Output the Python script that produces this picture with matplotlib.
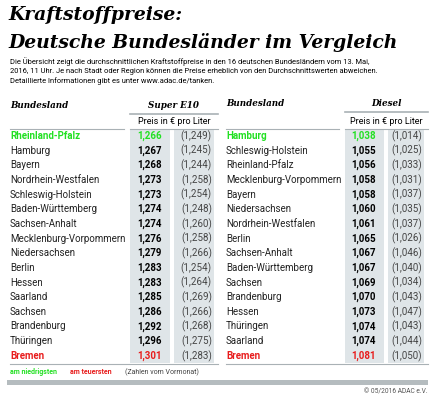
import matplotlib.pyplot as plt
from matplotlib.patches import Rectangle

plt.rcParams['font.family'] = ['Roboto', 'DejaVu Sans']

e10_laender = ['Rheinland-Pfalz', 'Hamburg', 'Bayern', 'Nordrhein-Westfalen', 'Schleswig-Holstein',
               'Baden-Württemberg', 'Sachsen-Anhalt', 'Mecklenburg-Vorpommern', 'Niedersachsen',
               'Berlin', 'Hessen', 'Saarland', 'Sachsen', 'Brandenburg', 'Thüringen', 'Bremen']
e10_preis = [1.266, 1.267, 1.268, 1.273, 1.273, 1.274, 1.274, 1.276, 1.279,
             1.283, 1.283, 1.285, 1.286, 1.292, 1.296, 1.301]
e10_vormonat = [1.249, 1.245, 1.244, 1.258, 1.254, 1.248, 1.260, 1.258, 1.266,
                1.254, 1.264, 1.269, 1.266, 1.268, 1.275, 1.283]

diesel_laender = ['Hamburg', 'Schleswig-Holstein', 'Rheinland-Pfalz', 'Mecklenburg-Vorpommern',
                  'Bayern', 'Niedersachsen', 'Nordrhein-Westfalen', 'Berlin', 'Sachsen-Anhalt',
                  'Baden-Württemberg', 'Sachsen', 'Brandenburg', 'Hessen', 'Thüringen',
                  'Saarland', 'Bremen']
diesel_preis = [1.038, 1.055, 1.056, 1.058, 1.058, 1.060, 1.061, 1.065, 1.067,
                1.067, 1.069, 1.070, 1.073, 1.074, 1.074, 1.081]
diesel_vormonat = [1.014, 1.025, 1.033, 1.031, 1.037, 1.035, 1.037, 1.026, 1.046,
                   1.040, 1.034, 1.043, 1.047, 1.043, 1.044, 1.050]

GRUEN = '#22e022'
ROT = '#e81c1c'
SHADE = '#dfe5e8'
LINIE = '#a9b1b5'

fig = plt.figure(figsize=(4.35, 4.0), dpi=100)
ax = fig.add_axes([0, 0, 1, 1])
ax.set_xlim(0, 435)
ax.set_ylim(400, 0)
ax.axis('off')

fmt = lambda v: f'{v:.3f}'.replace('.', ',')

ax.text(8, 15, 'Kraftstoffpreise:', fontsize=13.5, weight='bold', style='italic', va='center',
        family='DejaVu Serif')
ax.text(8, 42, 'Deutsche Bundesländer im Vergleich', fontsize=13.5, weight='bold', style='italic',
        va='center', family='DejaVu Serif')
sub = ('Die Übersicht zeigt die durchschnittlichen Kraftstoffpreise in den 16 deutschen Bundesländern vom 13. Mai,\n'
       '2016, 11 Uhr. Je nach Stadt oder Region können die Preise erheblich von den Durchschnittswerten abweichen.\n'
       'Detaillierte Informationen gibt es unter www.adac.de/tanken.')
ax.text(10, 71, sub, fontsize=5.4, va='center', linespacing=1.35)

y0, dy = 136, 14.65


def tabelle(x_name, x_c1, x_c2, x_end, titel, laender, preis, vormonat, y_kopf):
    ax.text(x_name, y_kopf, 'Bundesland', fontsize=6.3, weight='bold', style='italic', va='center',
            family='DejaVu Serif')
    ax.text((x_c1 + x_end) / 2, y_kopf, titel, fontsize=6.3, weight='bold', style='italic',
            va='center', ha='center', family='DejaVu Serif')
    ax.plot([x_c1, x_end], [y_kopf + 8, y_kopf + 8], color=LINIE, lw=1.2)
    ax.text((x_c1 + x_end) / 2, 122, 'Preis in € pro Liter', fontsize=6.5, va='center', ha='center')
    ax.plot([x_name, x_c1 - 6], [129, 129], color=LINIE, lw=0.8)
    ax.plot([x_c1, x_end], [129, 129], color=LINIE, lw=0.8)
    w1 = x_c2 - x_c1 - 4
    w2 = x_end - x_c2 - 4
    ax.add_patch(Rectangle((x_c1, 130), w1, 233, color=SHADE, lw=0))
    ax.add_patch(Rectangle((x_c2, 130), w2, 233, color=SHADE, lw=0))
    n = len(laender)
    for i, (land, p, v) in enumerate(zip(laender, preis, vormonat)):
        y = y0 + i * dy
        farbe = GRUEN if i == 0 else (ROT if i == n - 1 else '#222222')
        w = 'bold' if i in (0, n - 1) else 'normal'
        ax.text(x_name, y, land, fontsize=7, color=farbe, weight=w, va='center')
        ax.text(x_c1 + w1 - 8, y, fmt(p), fontsize=7, color=farbe if farbe != '#222222' else 'black',
                weight='bold', va='center', ha='right')
        ax.text(x_end - 6, y, f'({fmt(v)})', fontsize=7, color='#444444', va='center', ha='right')
    ax.plot([x_name, x_end], [364, 364], color=LINIE, lw=0.8)


tabelle(10, 130, 174, 218, 'Super E10', e10_laender, e10_preis, e10_vormonat, 106)
tabelle(226, 345, 388, 428, 'Diesel', diesel_laender, diesel_preis, diesel_vormonat, 104)

ax.text(10, 372, 'am niedrigsten', fontsize=5, color=GRUEN, weight='bold', va='center')
ax.text(70, 372, 'am teuersten', fontsize=5, color=ROT, weight='bold', va='center')
ax.text(125, 372, '(Zahlen vom Vormonat)', fontsize=5, color='#444444', va='center')
ax.add_patch(Rectangle((7, 380), 421, 5, color='#b5bcbf', lw=0))
ax.text(428, 392, '© 05/2016 ADAC e.V.', fontsize=4.8, color='#555555', va='center', ha='right')

fig.savefig('out.png', dpi=100)
